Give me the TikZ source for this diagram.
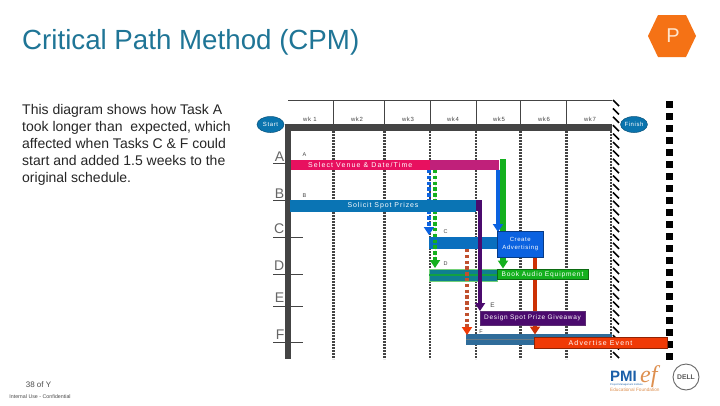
\documentclass[tikz,border=0pt]{standalone}
\usepackage{fontspec}
\setmainfont{Liberation Sans}
\newfontfamily\chartfont[LetterSpace=16]{Liberation Sans}
\newfontfamily\chartfontmid[LetterSpace=13]{Liberation Sans}
\newfontfamily\chartfontwide[LetterSpace=10]{Liberation Sans}
\newfontfamily\logoserif{Liberation Serif}
\usetikzlibrary{arrows.meta,shapes.geometric}
\definecolor{gridgrey}{HTML}{444444}
\definecolor{titleblue}{HTML}{1F7596}
\definecolor{oval}{HTML}{0A74AE}
\definecolor{pinkbar}{HTML}{E8105F}
\definecolor{magbar}{HTML}{C0207A}
\definecolor{bluebar}{HTML}{0A74B4}
\definecolor{cbar}{HTML}{0A6FBE}
\definecolor{cbox}{HTML}{0B62E0}
\definecolor{gbox}{HTML}{14B01E}
\definecolor{tealbar}{HTML}{0F7F90}
\definecolor{purp}{HTML}{4B0A6E}
\definecolor{fbar}{HTML}{2F6C9A}
\definecolor{redbox}{HTML}{F03A06}
\definecolor{hexo}{HTML}{F57215}
\definecolor{dotred}{HTML}{C0502E}
\definecolor{logoblue}{HTML}{1B5FA8}
\definecolor{logoorange}{HTML}{DE9050}
\tikzset{
  x=1pt,y=-1pt,
  taskbar/.style={anchor=north west,inner sep=0pt,outer sep=0pt,text=white,font=\chartfont\fontsize{7}{9}\selectfont,align=center},
  weekline/.style={draw=gridgrey,line width=1pt},
  dashline/.style={draw=gridgrey,line width=2.4pt,dash pattern=on 2pt off 1pt},
  rowline/.style={draw=gridgrey,line width=0.7pt},
  rowlabel/.style={anchor=base east,inner sep=0pt,text=black!60,font=\fontsize{14}{16}\selectfont},
  wklabel/.style={inner sep=0pt,text=gridgrey,font=\chartfontwide\fontsize{6}{7}\selectfont},
  tasklabel/.style={inner sep=0pt,text=gridgrey,font=\fontsize{5.5}{6}\selectfont},
  ovalnode/.style={ellipse,fill=oval,draw=oval!70!black,line width=0.5pt,inner sep=0pt,text=white,font=\chartfontwide\fontsize{6}{7}\selectfont},
  solidarrow/.style={line width=3.8pt,-{Triangle[length=8pt,width=10pt]}},
  dotarrow/.style={line width=3.8pt,dash pattern=on 3.4pt off 2.4pt,-{Triangle[length=8pt,width=10pt]}}
}
\begin{document}
\begin{tikzpicture}
\useasboundingbox (0,0) rectangle (720,405);
\fill[white] (0,0) rectangle (720,405);
% title and text
\node[anchor=base west,inner sep=0pt,font=\fontsize{27.7}{30}\selectfont,text=titleblue] (title) at (22,49.5) {Critical Path Method (CPM)};
\node[anchor=north west,inner sep=0pt,align=left,text=black!85,font=\fontsize{14}{16.9}\selectfont] (body) at (22,104.2) {This diagram shows how Task A\\took longer than \ expected, which\\affected when Tasks C \& F could\\start and added 1.5 weeks to the\\original schedule.};
% hexagon
\fill[hexo] (648,36) -- (658,15) -- (686,15) -- (696,36) -- (686,57) -- (658,57) -- cycle;
\node[inner sep=0pt,text=orange!20!white,font=\fontsize{20}{22}\selectfont] (hexP) at (673,36) {P};
% grid
\draw[weekline] (288,100) -- (612,100);
\foreach \xx in {333.5,384.5,430,476,520.5,566.5}{
  \draw[weekline] (\xx,100) -- (\xx,124);
  \draw[dashline] (\xx,131) -- (\xx,359);
}
\draw[dashline] (611,131) -- (611,359);
\fill[gridgrey] (285,124) rectangle (612,131);
\fill[gridgrey] (285,124) rectangle (291,359);
% hatched line
\foreach \yy in {100,108.4,...,352}{
  \draw[black,line width=1.6pt] (613,\yy) -- (619,\yy+6);
}
% square line
\foreach \yy in {101,113,...,353}{
  \fill[black] (666.3,\yy) rectangle (673.3,\yy+7);
}
% week labels
\foreach \xx/\tt in {310/wk 1,357/wk2,408/wk3,453/wk4,499/wk5,544/wk6,590/wk7}{
  \node[wklabel] at (\xx,119) {\tt};
}
% ovals
\node[ovalnode,minimum width=27pt,minimum height=16pt] (start) at (270.5,124.5) {Start};
\node[ovalnode,minimum width=25pt,minimum height=16pt] (finish) at (634,124.5) {Finish};
% row labels
\foreach \yy/\tt/\ly in {163/A/161.5,200/B/198,237/C/233,274/D/270.6,306/E/302,342/F/339}{
  \draw[rowline] (273,\yy) -- (303,\yy);
  \node[rowlabel] at (284.5,\ly) {\tt};
}
% task letters
\node[tasklabel] (la) at (304.5,155) {A};
\node[tasklabel] (lb) at (304.5,195.5) {B};
\node[tasklabel] (lc) at (445.5,232) {C};
\node[tasklabel] (ld) at (445.5,264) {D};
\node[tasklabel,font=\fontsize{6.5}{7}\selectfont] (le) at (492.5,305.5) {E};
\node[tasklabel] (lf) at (481,332) {F};
% coordinates of connectors
\coordinate (bstart) at (498,169.5);
\coordinate (bend) at (498,232);
\coordinate (gstart) at (503,159);
\coordinate (gend) at (503,268.5);
\coordinate (bdstart) at (429,170);
\coordinate (bdend) at (429,235);
\coordinate (gdstart) at (435,170);
\coordinate (gdend) at (435,268);
\coordinate (rdstart) at (467,249);
\coordinate (rdend) at (467,335);
\coordinate (rstart) at (535,257);
\coordinate (rend) at (535,334.5);
\coordinate (pstart) at (480,200);
\coordinate (pend) at (480,311);
% slack bars
\node[taskbar,fill=magbar,minimum width=69pt,minimum height=10pt] (aslack) at (430,159.5) {};
\node[taskbar,fill=tealbar,draw=gbox!60!white,line width=0.4pt,minimum width=68pt,minimum height=12pt] (dslack) at (429,269) {};
\fill[gbox!70!tealbar] (dslack.west)++(0,-1) rectangle ++(68,1.6);
\node[taskbar,fill=fbar,minimum width=146pt,minimum height=11pt] (fslack) at (466,334) {};
\fill[gray!70!fbar] (fslack.west)++(0,-0.8) rectangle ++(146,1.5);
\node[taskbar,fill=cbar,minimum width=68pt,minimum height=11.5pt] (cbarnode) at (429,237) {};
% dotted + solid connectors
\draw[dotarrow,draw=cbox,fill=cbox] (bdstart) -- (bdend);
\draw[dotarrow,draw=gbox,fill=gbox] (gdstart) -- (gdend);
\draw[dotarrow,draw=dotred,-{Triangle[length=8pt,width=10pt,color=redbox]}] (rdstart) -- (rdend);
\fill[purp] (476,200) rectangle (482,211);
\draw[solidarrow,draw=purp,fill=purp] (pstart) -- (pend);
\draw[solidarrow,line width=5.2pt,draw=gbox,fill=gbox] (gstart) -- (gend);
\draw[solidarrow,draw=cbox,fill=cbox] (bstart) -- (bend);
\draw[solidarrow,draw=redbox!85!black,fill=redbox] (rstart) -- (rend);
% tasks
\node[taskbar,fill=pinkbar,minimum width=139.5pt,minimum height=10pt] (taska) at (290.5,159.5) {Select Venue \& Date/Time};
\node[taskbar,fill=bluebar,minimum width=186pt,minimum height=11.5pt,font=\chartfontmid\fontsize{7}{9}\selectfont] (taskb) at (290,200) {Solicit Spot Prizes};
\node[taskbar,fill=cbox,draw=cbox!60!black,line width=0.6pt,minimum width=46.5pt,minimum height=26pt,font=\chartfontwide\fontsize{6}{8.7}\selectfont] (taskc) at (497,231) {Create\\Advertising};
\node[taskbar,fill=gbox,draw=gbox!60!black,line width=0.6pt,minimum width=91pt,minimum height=10pt,font=\chartfontmid\fontsize{6.6}{9}\selectfont] (taskd) at (497,269.5) {Book Audio Equipment};
\node[taskbar,fill=purp,draw=purp!70!gray,line width=0.6pt,minimum width=105pt,minimum height=14pt,font=\chartfontwide\fontsize{6.5}{8}\selectfont] (taske) at (480,311) {Design Spot Prize Giveaway};
\node[taskbar,fill=redbox,draw=redbox!60!black,line width=0.6pt,minimum width=133pt,minimum height=11pt] (taskf) at (534,337.5) {Advertise Event};
% footer
\node[inner sep=0pt,text=black!70,font=\fontsize{8}{9}\selectfont] (page) at (38.5,385) {38 of Y};
\node[inner sep=0pt,text=black!70,font=\fontsize{5.3}{6}\selectfont] (conf) at (40,397) {Internal Use - Confidential};
% logos
\node[anchor=base west,inner sep=0pt,text=logoblue,font=\bfseries\fontsize{15}{16}\selectfont] (pmi) at (610,381) {PMI};
\node[anchor=base west,inner sep=0pt,text=logoorange,font=\logoserif\itshape\fontsize{24}{25}\selectfont] (ef) at (640,382) {\smash{ef}};
\node[anchor=base west,inner sep=0pt,text=logoblue,font=\fontsize{2.5}{3}\selectfont] (pmit) at (610,385) {Project Management Institute};
\node[anchor=base west,inner sep=0pt,text=logoorange,font=\fontsize{4.7}{5}\selectfont] (edu) at (610,391) {Educational Foundation};
\node[circle,draw=black!60,line width=0.9pt,minimum size=26pt,inner sep=0pt,text=black!65,font=\bfseries\fontsize{6.8}{7}\selectfont] (dell) at (686,377) {DELL};
\end{tikzpicture}
\end{document}
